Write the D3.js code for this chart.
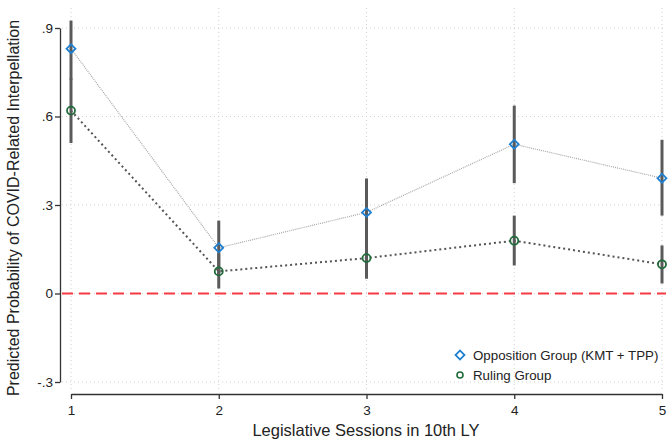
<!DOCTYPE html>
<html>
<head>
<meta charset="utf-8">
<script src="https://cdn.jsdelivr.net/npm/d3@7"></script>
<style>
  body { margin: 0; background: #fff; }
  svg { font-family: "Liberation Sans", Arial, sans-serif; }
</style>
</head>
<body>
<svg id="chart" width="670" height="442"></svg>
<script>
const width = 670;
const height = 442;

// data
const sessions = [1, 2, 3, 4, 5];
const oppMean = [0.83, 0.155, 0.275, 0.506, 0.391];
const oppLow = [0.725, 0.06, 0.16, 0.374, 0.264];
const oppHigh = [0.925, 0.247, 0.39, 0.637, 0.521];
const rulMean = [0.62, 0.075, 0.12, 0.179, 0.099];
const rulLow = [0.51, 0.017, 0.05, 0.095, 0.034];
const rulHigh = [0.73, 0.135, 0.19, 0.264, 0.163];
const yTicks = [-0.3, 0, 0.3, 0.6, 0.9];
const yTickLabels = ["-.3", "0", ".3", ".6", ".9"];
const legendLabels = ["Opposition Group (KMT + TPP)", "Ruling Group"];

const svg = d3.select("#chart");

const x = d3.scaleLinear().domain([1, 5]).range([71, 662]);
const y = d3.scaleLinear().domain([-0.3, 0.9]).range([382, 28]);

// grid
svg.append("g").selectAll("line.hg")
  .data(yTicks).enter().append("line")
  .attr("x1", 62).attr("x2", 666)
  .attr("y1", d => y(d)).attr("y2", d => y(d))
  .attr("stroke", "#d0d0d0").attr("stroke-width", 1)
  .attr("stroke-dasharray", "1,3");

svg.append("g").selectAll("line.vg")
  .data(sessions).enter().append("line")
  .attr("x1", d => x(d)).attr("x2", d => x(d))
  .attr("y1", 8).attr("y2", 390)
  .attr("stroke", "#d0d0d0").attr("stroke-width", 1)
  .attr("stroke-dasharray", "1,3");

// reference line at 0
svg.append("line")
  .attr("x1", 62).attr("x2", 666)
  .attr("y1", y(0)).attr("y2", y(0))
  .attr("stroke", "#f53a44").attr("stroke-width", 1.8)
  .attr("stroke-dasharray", "11,6");

// axes
const yAxis = svg.append("g")
  .attr("transform", "translate(60,0)")
  .call(d3.axisLeft(y).tickValues(yTicks)
    .tickFormat((d, i) => yTickLabels[i]).tickSize(5).tickSizeOuter(0));
yAxis.select(".domain").attr("stroke", "#333").attr("stroke-width", 1.3);
yAxis.selectAll(".tick line").attr("stroke", "#333").attr("stroke-width", 1.3);
yAxis.selectAll("text").attr("font-size", 13.5).attr("fill", "#222").attr("x", -7);

const xAxis = svg.append("g")
  .attr("transform", "translate(0,394)")
  .call(d3.axisBottom(x).tickValues(sessions).tickFormat(d3.format("d")).tickSize(5).tickSizeOuter(0));
xAxis.select(".domain").attr("stroke", "#333").attr("stroke-width", 1.3);
xAxis.selectAll(".tick line").attr("stroke", "#333").attr("stroke-width", 1.3);
xAxis.selectAll("text").attr("font-size", 13.5).attr("fill", "#222").attr("dy", "0.95em");

svg.append("text")
  .attr("x", 366).attr("y", 436)
  .attr("text-anchor", "middle")
  .attr("font-size", 16.5).attr("fill", "#222")
  .text("Legislative Sessions in 10th LY");

svg.append("text")
  .attr("transform", "translate(19,208) rotate(-90)")
  .attr("text-anchor", "middle")
  .attr("font-size", 16).attr("fill", "#222")
  .text("Predicted Probability of COVID-Related Interpellation");

// connecting lines
const lineGen = d3.line().x(d => x(d[0])).y(d => y(d[1]));

svg.append("path")
  .datum(sessions.map((s, i) => [s, oppMean[i]]))
  .attr("d", lineGen).attr("fill", "none")
  .attr("stroke", "#a8a8a8").attr("stroke-width", 1.2)
  .attr("stroke-dasharray", "1,1");

svg.append("path")
  .datum(sessions.map((s, i) => [s, rulMean[i]]))
  .attr("d", lineGen).attr("fill", "none")
  .attr("stroke", "#555").attr("stroke-width", 2)
  .attr("stroke-dasharray", "2,3");

// confidence intervals
function drawCI(low, high) {
  svg.append("g").selectAll("line")
    .data(sessions).enter().append("line")
    .attr("x1", d => x(d)).attr("x2", d => x(d))
    .attr("y1", (d, i) => y(low[i])).attr("y2", (d, i) => y(high[i]))
    .attr("stroke", "#5a5a5a").attr("stroke-width", 3);
}
drawCI(oppLow, oppHigh);
drawCI(rulLow, rulHigh);

// markers
const diamond = d3.symbol().type(d3.symbolSquare).size(40);
svg.append("g").selectAll("path")
  .data(sessions).enter().append("path")
  .attr("d", diamond)
  .attr("transform", (d, i) => `translate(${x(d)},${y(oppMean[i])}) rotate(45)`)
  .attr("fill", "none").attr("stroke", "#1f7fd0").attr("stroke-width", 1.8);

svg.append("g").selectAll("circle")
  .data(sessions).enter().append("circle")
  .attr("cx", d => x(d)).attr("cy", (d, i) => y(rulMean[i]))
  .attr("r", 4)
  .attr("fill", "none").attr("stroke", "#1f6b3a").attr("stroke-width", 1.8);

// legend
const lg = svg.append("g").attr("transform", "translate(460,355)");
lg.append("path").attr("d", diamond)
  .attr("transform", "translate(0,0) rotate(45)")
  .attr("fill", "none").attr("stroke", "#1f7fd0").attr("stroke-width", 1.8);
lg.append("circle").attr("cx", 0).attr("cy", 20).attr("r", 3)
  .attr("fill", "none").attr("stroke", "#1f6b3a").attr("stroke-width", 1.6);
lg.selectAll("text")
  .data(legendLabels).enter().append("text")
  .attr("x", 13).attr("y", (d, i) => i * 20)
  .attr("dy", "0.35em")
  .attr("font-size", 13.3).attr("fill", "#222")
  .text(d => d);
</script>
</body>
</html>
